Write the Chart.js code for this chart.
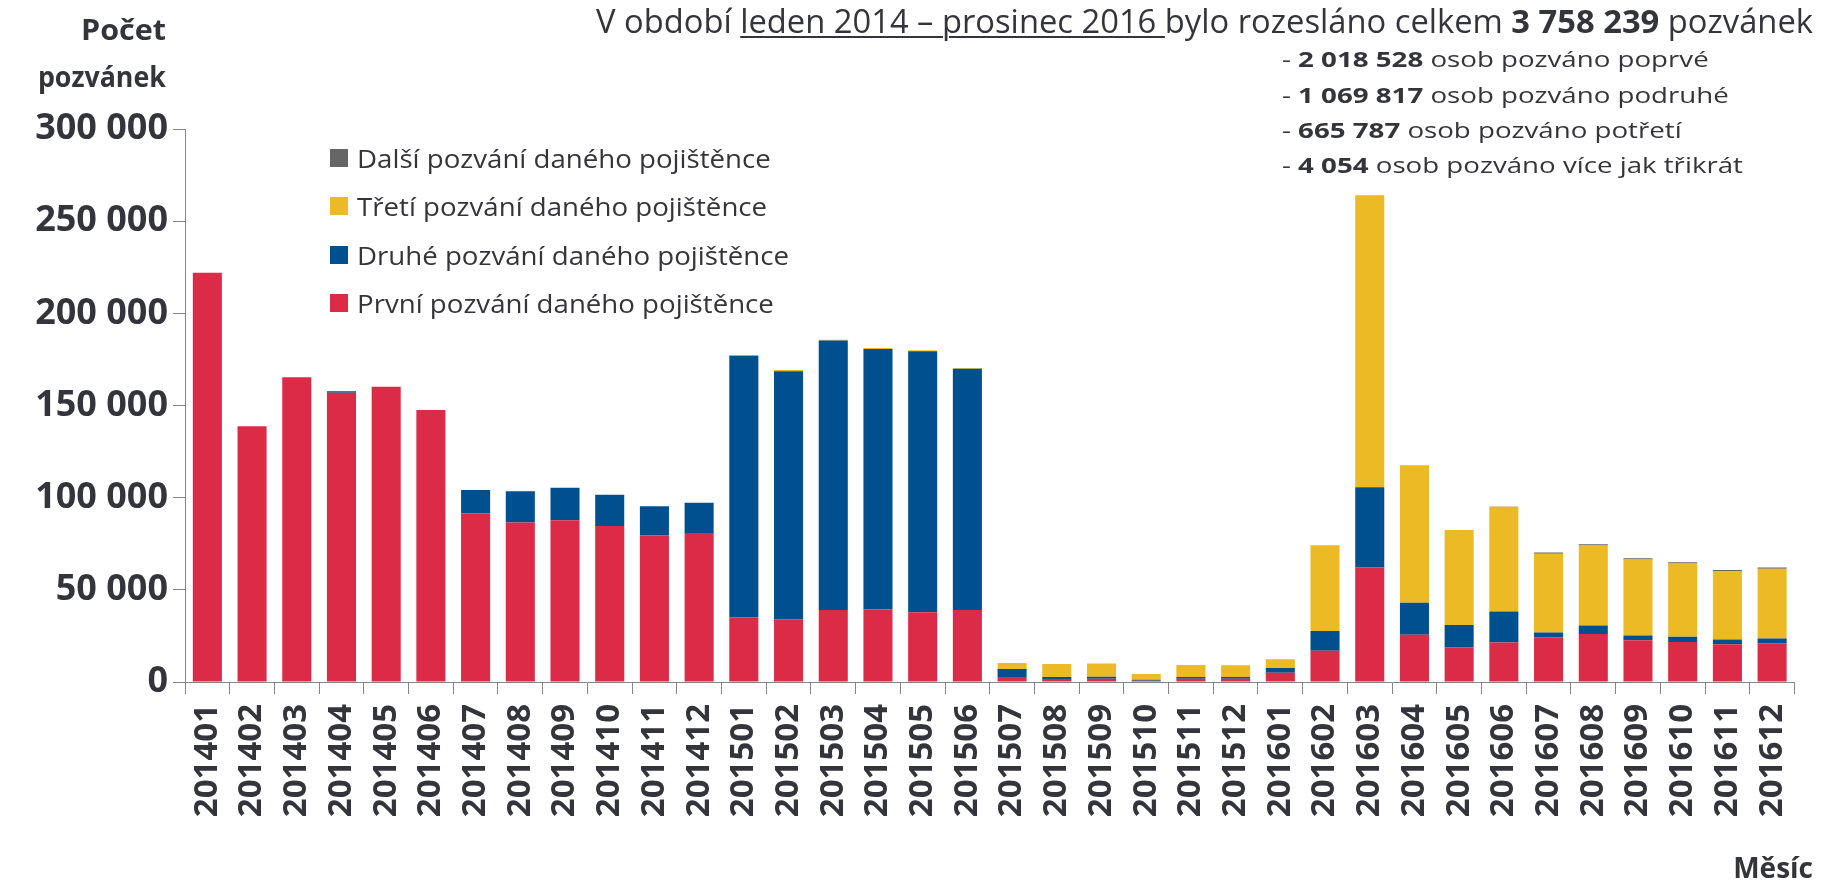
<!DOCTYPE html>
<html lang="cs">
<head>
<meta charset="utf-8">
<title>Počet pozvánek</title>
<script src="https://cdn.jsdelivr.net/npm/chart.js@4/dist/chart.umd.min.js"></script>
<style>
  html, body { margin: 0; padding: 0; background: #fff; }
  #wrap { position: relative; width: 1822px; height: 881px; overflow: hidden; font-family: "Open Sans", sans-serif; color: #34343c; }
  #chart { position: absolute; left: 0; top: 0; }
  .txt { position: absolute; white-space: nowrap; display: inline-block; line-height: 1; }
  .fitL { transform-origin: left top; }
  .fitR { transform-origin: right top; }
  #title { left: 596px; top: 5px; font-size: 32px; }
  #title u { text-decoration-thickness: 2px; text-underline-offset: 3px; }
  .note { left: 1282px; font-size: 21px; }
  .ylab { right: 1656px; font-size: 28px; font-weight: bold; }
  #xlab { right: 9px; top: 853px; font-size: 28px; font-weight: bold; }
  #legend { position: absolute; left: 330px; top: 143px; }
  .lrow { display: flex; align-items: center; height: 30px; margin-bottom: 18.3px; font-size: 26px; white-space: nowrap; }
  .lbox { width: 18px; height: 18px; margin-right: 9px; flex: none; }
  .ltxt { display: inline-block; transform-origin: left center; }
</style>
</head>
<body>
<div id="wrap">
  <canvas id="chart" width="1822" height="881"></canvas>
  <div id="title" class="txt fitL" data-w="1217">V období <u>leden 2014 – prosinec 2016 </u>bylo rozesláno celkem <b>3 758 239</b> pozvánek</div>
  <div class="txt note fitL" style="top:49px">- <b>2 018 528</b> osob pozváno poprvé</div>
  <div class="txt note fitL" style="top:85px">- <b>1 069 817</b> osob pozváno podruhé</div>
  <div class="txt note fitL" style="top:120px">- <b>665 787</b> osob pozváno potřetí</div>
  <div id="noteRef" class="txt note fitL" style="top:155px" data-w="461">- <b>4 054</b> osob pozváno více jak třikrát</div>
  <div class="txt ylab fitR" style="top:15px" data-w="85">Počet</div>
  <div class="txt ylab fitR" style="top:62px" data-w="128">pozvánek</div>
  <div id="xlab" class="txt">Měsíc</div>
  <div id="legend"></div>
</div>
<script>
// měsíce
const months = [
  '201401', '201402', '201403', '201404', '201405', '201406',
  '201407', '201408', '201409', '201410', '201411', '201412',
  '201501', '201502', '201503', '201504', '201505', '201506',
  '201507', '201508', '201509', '201510', '201511', '201512',
  '201601', '201602', '201603', '201604', '201605', '201606',
  '201607', '201608', '201609', '201610', '201611', '201612'
];

// první pozvání
const prvni = [
  222000, 138800, 165300, 156900, 160200, 147600,
  91500, 86500, 87700, 84600, 79500, 80850,
  35000, 34100, 39000, 39350, 37900, 39000,
  2700, 1600, 1700, 700, 1700, 1700,
  5000, 17000, 62300, 25600, 18800, 21400,
  24300, 26000, 22700, 21750, 20450, 21000
];

// druhé pozvání
const druhe = [
  0, 0, 0, 800, 0, 0,
  12600, 17000, 17700, 17000, 15800, 16450,
  142050, 134500, 146200, 141350, 141550, 130900,
  4300, 1100, 1100, 500, 1000, 1000,
  2600, 10600, 43300, 17400, 12100, 16850,
  2550, 4700, 2500, 2750, 2550, 2600
];

// třetí pozvání
const treti = [
  0, 0, 0, 0, 0, 0,
  0, 0, 0, 0, 0, 0,
  400, 700, 500, 500, 500, 500,
  3300, 7000, 7200, 3100, 6500, 6400,
  4700, 46600, 158500, 74600, 51500, 56800,
  42700, 43300, 41250, 39800, 37200, 37900
];

// další pozvání
const dalsi = [
  0, 0, 0, 0, 0, 0,
  0, 0, 0, 0, 0, 0,
  0, 0, 0, 0, 0, 0,
  0, 0, 0, 0, 0, 0,
  0, 0, 0, 0, 50, 100,
  650, 700, 700, 650, 600, 600
];

const yTicks = [0, 50000, 100000, 150000, 200000, 250000, 300000];

const seriesNames = [
  'První pozvání daného pojištěnce',
  'Druhé pozvání daného pojištěnce',
  'Třetí pozvání daného pojištěnce',
  'Další pozvání daného pojištěnce'
];
const seriesColors = ['#DC2B47', '#00508F', '#EBBA24', '#666666'];

const axisColor = '#858585';
const textColor = '#34343c';

function fmt(v) {
  return String(v).replace(/\B(?=(\d{3})+(?!\d))/g, ' ');
}

function fitTexts() {
  document.querySelectorAll('[data-w]').forEach(el => {
    const k = parseFloat(el.dataset.w) / el.getBoundingClientRect().width;
    el.style.transform = 'scaleX(' + k + ')';
  });
  // ostatní řádky poznámek stejným poměrem jako poslední
  const ref = document.getElementById('noteRef');
  document.querySelectorAll('.note').forEach(el => { el.style.transform = ref.style.transform; });
  // legenda: šířka řádku "Druhé ..." 432 px
  const lt = document.querySelectorAll('.ltxt');
  const k = 432 / lt[2].getBoundingClientRect().width;
  lt.forEach(el => { el.style.transform = 'scaleX(' + k + ')'; });
}

function buildLegend() {
  const box = document.getElementById('legend');
  for (let i = seriesNames.length - 1; i >= 0; i--) {
    const row = document.createElement('div');
    row.className = 'lrow';
    row.innerHTML = '<span class="lbox" style="background:' + seriesColors[i] + '"></span><span class="ltxt">' + seriesNames[i] + '</span>';
    box.appendChild(row);
  }
}

function initChart() {
  const values = [prvni, druhe, treti, dalsi];
  const ctx = document.getElementById('chart');
  new Chart(ctx, {
    type: 'bar',
    data: {
      labels: months,
      datasets: values.map((d, i) => ({
        label: seriesNames[i],
        data: d,
        backgroundColor: seriesColors[i],
        borderWidth: 0,
        barPercentage: 0.65,
        categoryPercentage: 1.0
      }))
    },
    options: {
      responsive: false,
      animation: false,
      devicePixelRatio: 1,
      layout: { padding: { top: 129, right: 21, left: 0, bottom: 0 } },
      plugins: {
        legend: { display: false },
        tooltip: { enabled: false }
      },
      scales: {
        x: {
          stacked: true,
          grid: { drawOnChartArea: false, drawTicks: true, tickLength: 12, color: axisColor, offset: true },
          border: { color: axisColor, width: 1 },
          ticks: {
            autoSkip: false,
            minRotation: 90,
            maxRotation: 90,
            padding: 10,
            color: textColor,
            font: { family: '"Liberation Sans Narrow", "Open Sans", sans-serif', size: 33, weight: 'bold' }
          },
          afterFit(scale) { scale.height = 199; }
        },
        y: {
          stacked: true,
          min: 0,
          max: 300000,
          afterBuildTicks(scale) { scale.ticks = yTicks.map(v => ({ value: v })); },
          grid: { drawOnChartArea: false, drawTicks: true, tickLength: 12, color: axisColor },
          border: { color: axisColor, width: 1 },
          ticks: {
            padding: 5,
            color: textColor,
            callback: v => fmt(v),
            font: { family: '"Open Sans", sans-serif', size: 36, weight: 'bold' }
          },
          afterFit(scale) { scale.width = 185; }
        }
      }
    }
  });
}

buildLegend();
document.fonts.ready.then(() => {
  fitTexts();
  initChart();
});
</script>
</body>
</html>
